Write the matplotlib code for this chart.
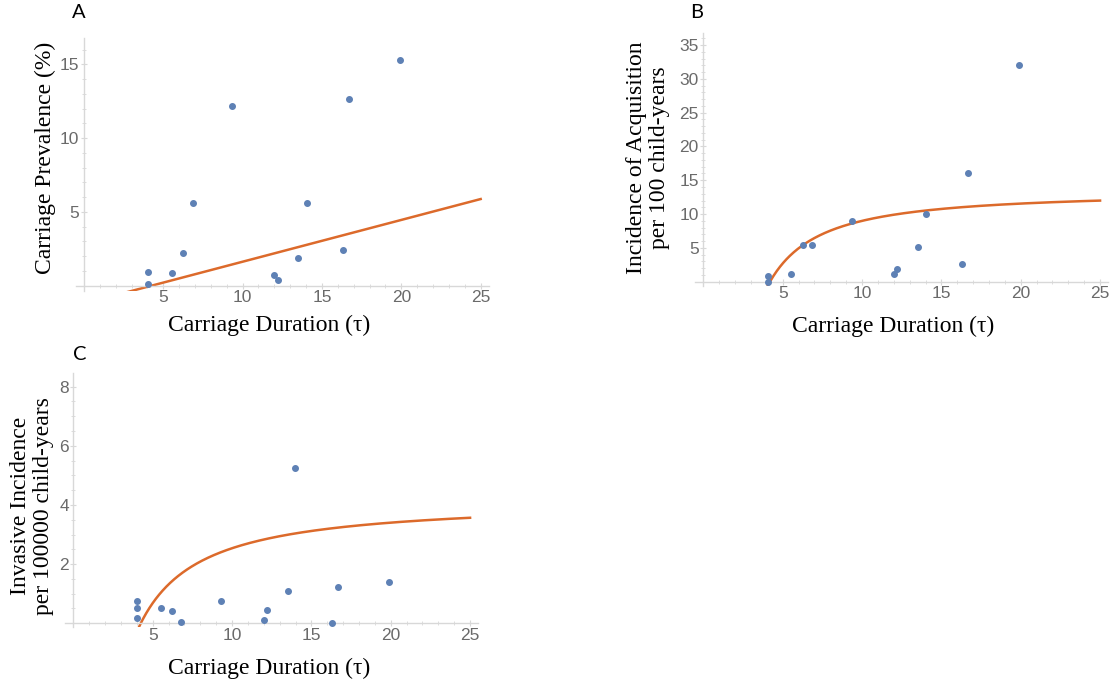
import numpy as np
import matplotlib.pyplot as plt
from matplotlib.ticker import MultipleLocator

# carriage duration of each serotype
duration = [4.05, 4.05, 5.55, 6.25, 6.85, 9.35, 12.0, 12.2, 13.5, 14.05, 16.3, 16.7, 19.9]
prevalence = [0.95, 0.11, 0.88, 2.19, 5.62, 12.18, 0.70, 0.38, 1.90, 5.62, 2.39, 12.67, 15.29]
acquisition = [0.84, 0.0, 1.13, 5.42, 5.42, 8.97, 1.13, 1.82, 5.08, 10.05, 2.56, 16.1, 32.1]

duration_ipd = [4.0, 4.0, 4.0, 5.53, 6.22, 6.81, 9.31, 12.02, 12.2, 13.55, 13.99, 16.32, 16.7, 19.87]
invasive = [0.75, 0.53, 0.17, 0.51, 0.42, 0.05, 0.75, 0.12, 0.44, 1.10, 5.26, 0.0, 1.23, 1.40]

# fitted models
prev_slope, prev_x0 = 0.283, 4.25
acq_a, acq_c, acq_p = 13.3, 4.2, 1.3
inv_a, inv_c, inv_p = 4.16, 4.25, 1.1

blue = '#5E81B5'
orange = '#DC6A2B'
axcol = '#D8D8D8'
tickcol = '#6A6A6A'
serif = 'Liberation Serif'

W, H = 1115, 684
fig = plt.figure(figsize=(W / 100, H / 100), dpi=100)


def px_axes(left, bottom_px, top_px, width):
    return fig.add_axes([left / W, (H - bottom_px) / H, width / W, (bottom_px - top_px) / H])


def style(ax, xlim, ylim, ymajor, yminor):
    ax.set_xlim(*xlim)
    ax.set_ylim(*ylim)
    for s in ['top', 'right']:
        ax.spines[s].set_visible(False)
    for s in ['left', 'bottom']:
        ax.spines[s].set_position(('data', 0))
        ax.spines[s].set_color(axcol)
        ax.spines[s].set_linewidth(1.0)
    ax.xaxis.set_minor_locator(MultipleLocator(1))
    ax.yaxis.set_minor_locator(MultipleLocator(yminor))
    ax.set_xticks([5, 10, 15, 20, 25])
    yt = np.arange(ymajor, ylim[1], ymajor)
    ax.set_yticks(yt)
    ax.set_yticklabels([f'{v:g}' for v in yt])
    ax.tick_params(which='major', direction='inout', length=4.5, width=0.8, color=axcol,
                   labelsize=12.5, labelcolor=tickcol, pad=1)
    ax.tick_params(which='minor', direction='inout', length=2.5, width=0.6, color=axcol)
    for lab in ax.get_xticklabels() + ax.get_yticklabels():
        lab.set_fontfamily('Liberation Sans')
    ax.patch.set_alpha(0)


xs = np.linspace(0.5, 25, 600)

# A: carriage prevalence
axA = px_axes(76, 290.9, 37.7, 412.6)
style(axA, (-0.5, 25.5), (-0.35, 16.8), 5, 1)
axA.plot(xs, prev_slope * (xs - prev_x0), color=orange, lw=1.8)
axA.scatter(duration, prevalence, s=16, color=blue, zorder=3)

# B: acquisition incidence
axB = px_axes(695.4, 286.1, 32.8, 412.6)
style(axB, (-0.5, 25.5), (-0.65, 36.8), 5, 1)
axB.plot(xs, acq_a * (1 - (acq_c / xs) ** acq_p), color=orange, lw=1.8)
axB.scatter(duration, acquisition, s=16, color=blue, zorder=3)

# C: invasive incidence
axC = px_axes(65.4, 627.4, 373.4, 412.6)
style(axC, (-0.5, 25.5), (-0.14, 8.45), 2, 0.5)
axC.plot(xs, inv_a * (1 - (inv_c / xs) ** inv_p), color=orange, lw=1.8)
axC.scatter(duration_ipd, invasive, s=16, color=blue, zorder=3)


def ftext(x, y, s, **kw):
    fig.text(x / W, 1 - y / H, s, ha='center', va='center', **kw)


lab = dict(family=serif, fontsize=17, color='black', linespacing=1.12)
ftext(45, 158, 'Carriage Prevalence (%)', rotation=90, **lab)
ftext(269, 325, 'Carriage Duration (τ)', **lab)
ftext(648, 158, 'Incidence of Acquisition\nper 100 child-years', rotation=90, **lab)
ftext(893, 326, 'Carriage Duration (τ)', **lab)
ftext(32, 506, 'Invasive Incidence\nper 100000 child-years', rotation=90, **lab)
ftext(269, 668, 'Carriage Duration (τ)', **lab)

letter = dict(family='Lato', fontsize=14.5, color='black')
ftext(79, 13, 'A', **letter)
ftext(697, 13, 'B', **letter)
ftext(80, 354, 'C', **letter)

fig.savefig('out.png', dpi=100)
